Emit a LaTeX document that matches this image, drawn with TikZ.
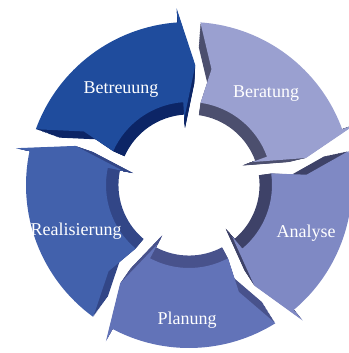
\documentclass[tikz,border=0pt]{standalone}
\usepackage{fontspec}
\setmainfont{Liberation Serif}
\def\Ro{163}
\def\Ri{83}
% #1 = tip angle of the previous gap (tail), #2 = head base angle
\newcommand\segpath[2]{({#1-1}:\Ro) arc[start angle={#1-1}, end angle={#2}, radius=\Ro]
  -- ({#2}:{\Ro+14}) -- ({#2-7}:120) -- ({#2}:67) -- ({#2}:\Ri)
  arc[start angle={#2}, end angle={#1-5}, radius=\Ri]
  -- ({#1-8}:118) -- cycle}
\definecolor{topA}{HTML}{1F4C9D}\definecolor{wallA}{HTML}{0C2566}
\definecolor{topB}{HTML}{9AA0D0}\definecolor{wallB}{HTML}{4C4F6E}
\definecolor{topC}{HTML}{7F89C4}\definecolor{wallC}{HTML}{3E4268}
\definecolor{topD}{HTML}{6273B8}\definecolor{wallD}{HTML}{48528C}
\definecolor{topE}{HTML}{4261AC}\definecolor{wallE}{HTML}{324687}
\tikzset{lbl/.style={text=white, font=\fontsize{18}{20}\selectfont, anchor=base, inner sep=0pt}}
\begin{document}
\begin{tikzpicture}[x=1pt,y=1pt]
\useasboundingbox (0,0) rectangle (348,-353);
\foreach \s in {0.85,0.86,...,0.99}{
  \begin{scope}[shift={(189,-185)},scale=\s]
    \fill[wallA] \segpath{161}{94};
    \fill[wallB] \segpath{87}{20};
    \fill[wallC] \segpath{13}{-50};
    \fill[wallD] \segpath{-57}{-118};
    \fill[wallE] \segpath{-125}{-192};
  \end{scope}
}
\begin{scope}[shift={(189,-185)}]
  \fill[topA] \segpath{161}{94};
  \fill[topB] \segpath{87}{20};
  \fill[topC] \segpath{13}{-50};
  \fill[topD] \segpath{-57}{-118};
  \fill[topE] \segpath{-125}{-192};
\end{scope}
\node[lbl] (betreuung) at (121,-93) {Betreuung};
\node[lbl] (beratung) at (266,-97) {Beratung};
\node[lbl] (analyse) at (306,-237) {Analyse};
\node[lbl] (planung) at (187,-324) {Planung};
\node[lbl] (realisierung) at (76,-235) {Realisierung};
\end{tikzpicture}
\end{document}
